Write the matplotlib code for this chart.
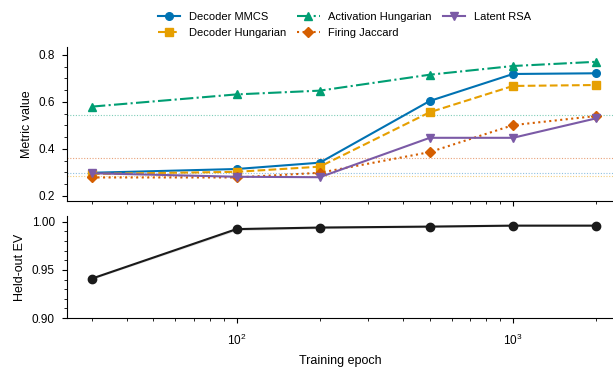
import numpy as np
import matplotlib
matplotlib.use('Agg')
import matplotlib.pyplot as plt
from matplotlib.ticker import AutoMinorLocator, LogLocator, NullFormatter

plt.rcParams['font.family'] = ['Liberation Sans', 'DejaVu Sans']
plt.rcParams['font.size'] = 8
plt.rcParams['mathtext.fontset'] = 'custom'
plt.rcParams['mathtext.rm'] = 'Liberation Sans'
plt.rcParams['mathtext.it'] = 'Liberation Sans:italic'
plt.rcParams['mathtext.bf'] = 'Liberation Sans:bold'

# data
epochs = [30, 100, 200, 500, 1000, 2000]
decoder_mmcs = [0.298, 0.314, 0.341, 0.604, 0.719, 0.722]
decoder_hungarian = [0.293, 0.302, 0.324, 0.556, 0.668, 0.672]
activation_hungarian = [0.580, 0.632, 0.648, 0.716, 0.753, 0.771]
firing_jaccard = [0.278, 0.278, 0.298, 0.386, 0.501, 0.540]
latent_rsa = [0.296, 0.281, 0.279, 0.447, 0.447, 0.530]
heldout_ev = [0.941, 0.9924, 0.994, 0.995, 0.996, 0.996]
heldout_ev_std = [0.0008, 0.0015, 0.0012, 0.0010, 0.0008, 0.0008]

# chance / baseline levels (dotted)
baseline_vals = [0.544, 0.359, 0.298, 0.285]
baseline_cols = ['#7fcdb8', '#e8a27a', '#8fc0e0', '#f2cf80']

series = [
    ('Decoder MMCS', decoder_mmcs, '#0072B2', 'o', '-'),
    ('Decoder Hungarian', decoder_hungarian, '#E69F00', 's', '--'),
    ('Activation Hungarian', activation_hungarian, '#009E73', '^', '-.'),
    ('Firing Jaccard', firing_jaccard, '#D55E00', 'D', ':'),
    ('Latent RSA', latent_rsa, '#7B5AA6', 'v', '-'),
]

fig = plt.figure(figsize=(6.13, 3.70), dpi=100)
ax1 = fig.add_axes([0.1088, 0.4576, 0.8912, 0.416])
ax2 = fig.add_axes([0.1088, 0.1405, 0.8912, 0.2757], sharex=ax1)

for val, col in zip(baseline_vals, baseline_cols):
    ax1.axhline(val, color=col, lw=0.8, ls=(0, (1, 1.5)), zorder=1)

for name, vals, col, mk, ls in series:
    ax1.plot(epochs, vals, color=col, marker=mk, ls=ls, lw=1.5, ms=5.5, label=name, zorder=3)

ev = np.array(heldout_ev)
sd = np.array(heldout_ev_std)
ax2.fill_between(epochs, ev - sd, ev + sd, color='0.75', alpha=0.5, lw=0)
ax2.plot(epochs, heldout_ev, color='#1a1a1a', marker='o', lw=1.5, ms=6)

ax1.set_xscale('log')
ax1.set_xlim(24.3, 2300)
ax1.set_ylim(0.179, 0.835)
ax1.set_yticks([0.2, 0.4, 0.6, 0.8])
ax1.yaxis.set_minor_locator(AutoMinorLocator(4))
ax1.set_ylabel('Metric value', fontsize=9, labelpad=4)
plt.setp(ax1.get_xticklabels(), visible=False)

ax2.set_ylim(0.90, 1.006)
ax2.set_yticks([0.90, 0.95, 1.00])
ax2.yaxis.set_minor_locator(AutoMinorLocator(5))
ax2.set_ylabel('Held-out EV', fontsize=9, labelpad=4)
ax2.set_xlabel('Training epoch', fontsize=9, labelpad=5)
ax2.xaxis.set_major_locator(LogLocator(base=10))
ax2.xaxis.set_minor_locator(LogLocator(base=10, subs=np.arange(2, 10)))
ax2.xaxis.set_minor_formatter(NullFormatter())

for ax in (ax1, ax2):
    ax.spines['top'].set_visible(False)
    ax.spines['right'].set_visible(False)
    ax.tick_params(which='major', length=3.5, width=0.8, pad=5, labelsize=8.5)
    ax.tick_params(which='minor', length=2, width=0.6)
ax2.tick_params(axis='x', which='major', pad=7)

fig.align_ylabels([ax1, ax2])
fig.legend(*ax1.get_legend_handles_labels(), loc='upper center', ncol=3,
           bbox_to_anchor=(0.562, 0.988), frameon=False, handlelength=2.0,
           handletextpad=0.8, columnspacing=1.0, borderaxespad=0.3,
           labelspacing=0.5)

fig.savefig('out.png', dpi=100)
